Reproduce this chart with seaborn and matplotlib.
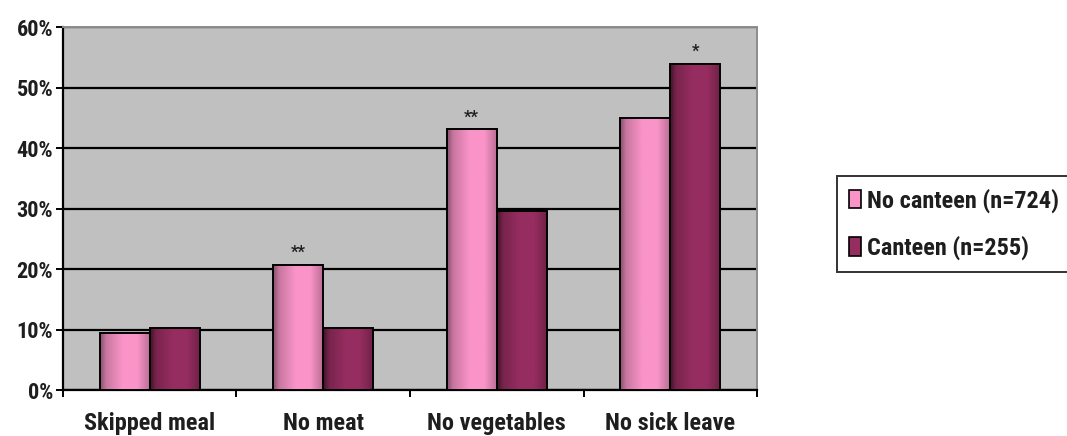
import numpy as np
import pandas as pd
import matplotlib
matplotlib.use("Agg")
import matplotlib.pyplot as plt
import matplotlib.colors as mcolors
from matplotlib.ticker import FixedLocator, FuncFormatter
from matplotlib.patches import Patch
import seaborn as sns

# Share of respondents (%) by outcome and canteen access
categories = ["Skipped meal", "No meat", "No vegetables", "No sick leave"]
groups = ["No canteen (n=724)", "Canteen (n=255)"]
no_canteen = [9.4, 20.7, 43.1, 45.0]
canteen = [10.3, 10.2, 29.6, 53.9]
# significance marks: (category index, group index, label)
sig_marks = [(1, 0, "**"), (2, 0, "**"), (3, 1, "*")]
y_ticks = [0, 10, 20, 30, 40, 50, 60]

df = pd.DataFrame({
    "category": categories * 2,
    "group": [groups[0]] * 4 + [groups[1]] * 4,
    "value": no_canteen + canteen,
})

sns.set_theme(style="white")
plt.rcParams["font.family"] = ["Roboto Condensed", "PT Sans Narrow",
                               "Liberation Sans", "DejaVu Sans"]
plt.rcParams["font.weight"] = "bold"

fig = plt.figure(figsize=(10.67, 4.36), dpi=100)
ax = fig.add_axes([0.059, 0.1055, 0.6505, 0.8325])
ax.set_facecolor("#c0c0c0")

pink = "#fa94c8"
plum = "#962d60"
palette = {groups[0]: pink, groups[1]: plum}

sns.barplot(data=df, x="category", y="value", hue="group", order=categories,
            hue_order=groups, palette=palette, width=0.576, gap=0,
            edgecolor="black", linewidth=1.4, saturation=1, ax=ax,
            legend=False, zorder=3)


def shade(base, lo):
    """Horizontal light profile giving each bar a rounded, cylinder-like look."""
    c = np.array(mcolors.to_rgb(base))
    x = np.linspace(0, 1, 64)
    f = np.interp(x, [0, 0.12, 0.45, 0.75, 1.0], [lo, 0.8, 1.0, 1.0, 0.75])
    return np.clip(c[None, :] * f[:, None], 0, 1)[None, :, :]


grad_pink = shade(pink, 0.55)
grad_plum = shade(plum, 0.45)

n = len(categories)
for i, bar in enumerate(ax.patches[: 2 * n]):
    grad = grad_pink if i < n else grad_plum
    x0, w, h = bar.get_x(), bar.get_width(), bar.get_height()
    im = ax.imshow(grad, extent=[x0, x0 + w, 0, h], aspect="auto",
                   interpolation="bilinear", zorder=3.5)
    im.set_clip_path(bar)
    bar.set_facecolor("none")
    bar.set_zorder(4)

ax.set_xlim(-0.5, n - 0.5)
ax.set_ylim(0, 60)
ax.yaxis.set_major_locator(FixedLocator(y_ticks))
ax.yaxis.set_major_formatter(FuncFormatter(lambda v, p: f"{v:.0f}%"))
ax.grid(axis="y", color="black", linewidth=1.6, zorder=1)
ax.grid(axis="x", visible=False)
ax.set_axisbelow(True)

ax.set_xlabel("")
ax.set_ylabel("")
ax.tick_params(axis="y", which="major", length=5, width=1.4, color="black",
               direction="out", labelsize=16, pad=2, left=True)
ax.tick_params(axis="x", which="major", length=0, labelsize=17.5, pad=16)
ax.set_xticks(np.arange(-0.5, n, 1.0), minor=True)
ax.tick_params(axis="x", which="minor", length=5, width=1.4, color="black",
               direction="out", bottom=True)
for lab in ax.get_xticklabels() + ax.get_yticklabels():
    lab.set_fontweight("bold")
    lab.set_color("#1e1e1e")

for side in ["left", "bottom"]:
    ax.spines[side].set_color("black")
    ax.spines[side].set_linewidth(1.6)
for side in ["top", "right"]:
    ax.spines[side].set_color("#8c8c8c")
    ax.spines[side].set_linewidth(1.4)

values = [no_canteen, canteen]
offsets = [-0.144, 0.144]
for ci, gi, txt in sig_marks:
    ax.text(ci + offsets[gi], values[gi][ci] + 0.8, txt, ha="center", va="bottom",
            fontsize=12, color="#1e1e1e", zorder=5)

handles = [Patch(facecolor=pink, edgecolor="black", linewidth=1.2, label=groups[0]),
           Patch(facecolor=plum, edgecolor="black", linewidth=1.2, label=groups[1])]
leg = fig.legend(handles=handles, loc="upper left", bbox_to_anchor=(0.784, 0.596),
                 frameon=True, fancybox=False, edgecolor="black", fontsize=17.5,
                 handlelength=0.5, handleheight=0.8, handletextpad=0.25,
                 labelspacing=0.95, borderpad=0.5, borderaxespad=0)
leg.get_frame().set_linewidth(1.4)
for t in leg.get_texts():
    t.set_fontweight("bold")
    t.set_color("#1e1e1e")

fig.savefig("out.png", dpi=100, facecolor="white")
